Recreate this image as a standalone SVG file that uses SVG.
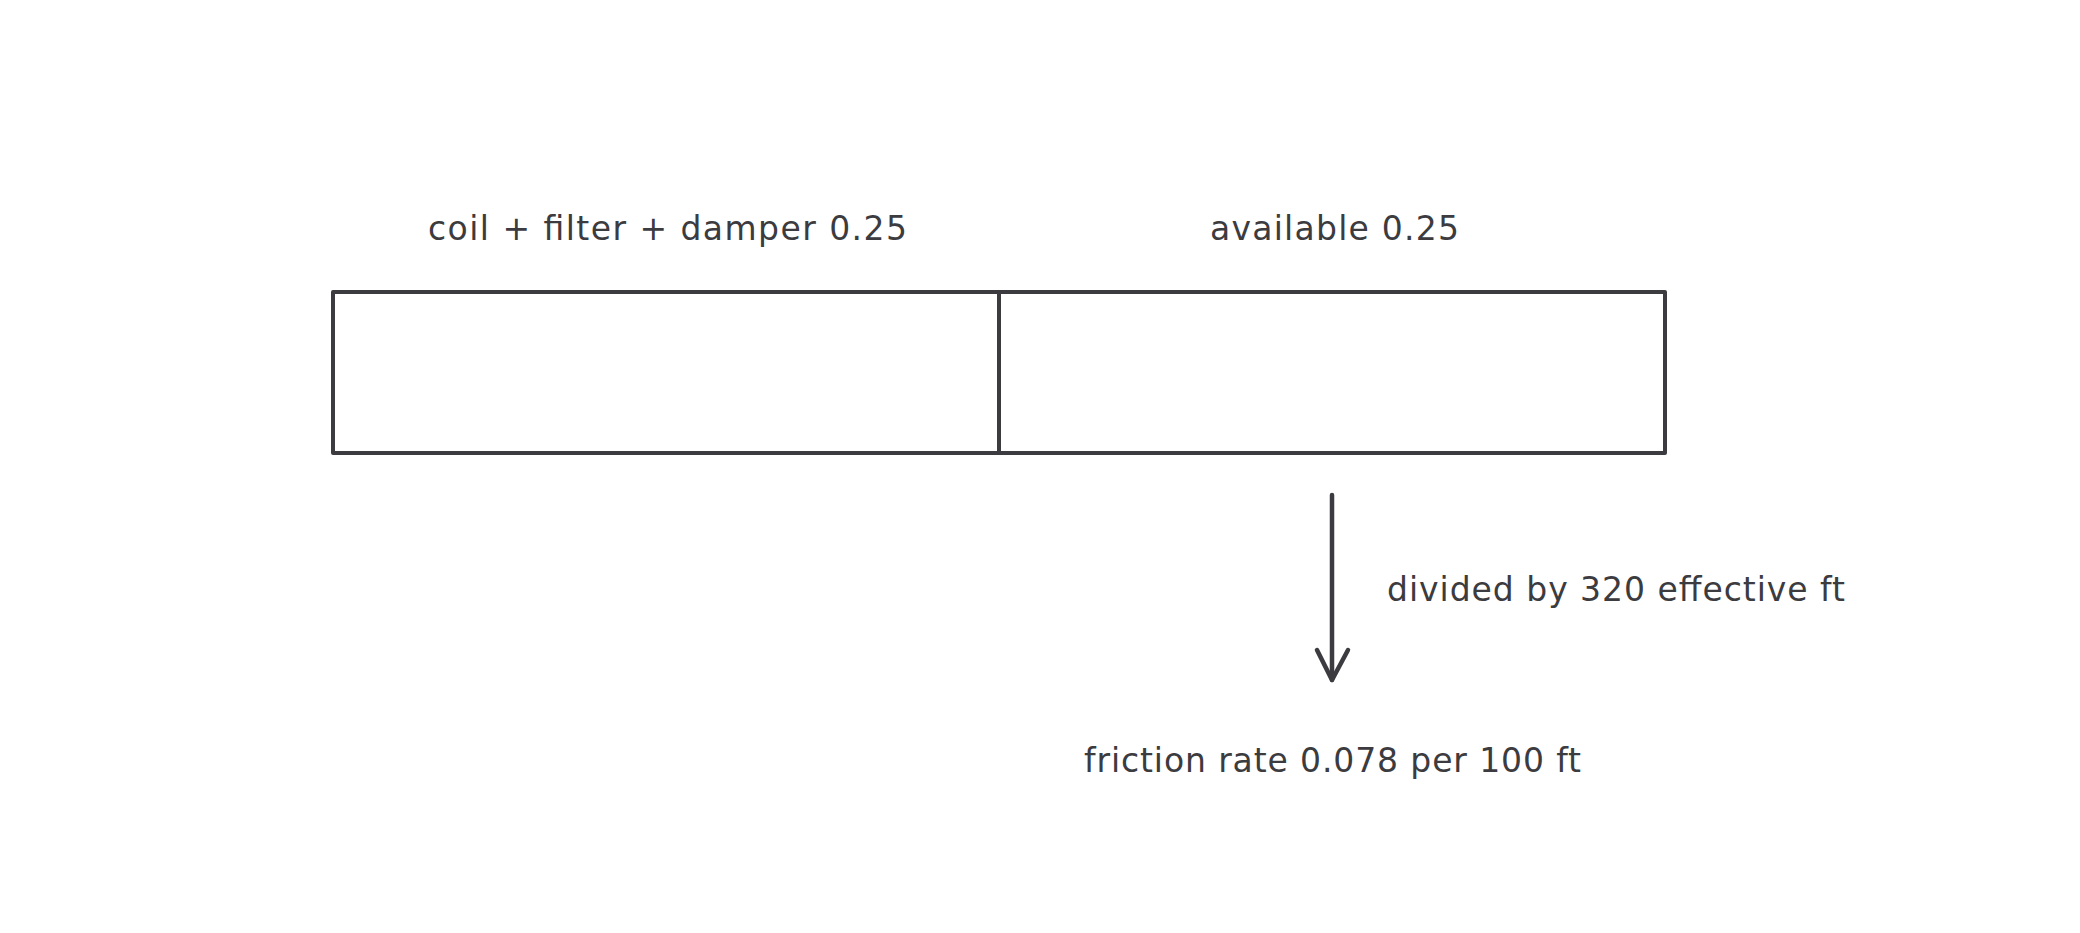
<svg xmlns="http://www.w3.org/2000/svg" width="2080" height="933" viewBox="0 0 2080 933">
<style>
.s{fill:none;stroke:#3b3b40;stroke-width:4;stroke-linecap:round;stroke-linejoin:round}
.a{fill:none;stroke:#3b3b40;stroke-width:4.5;stroke-linecap:round;stroke-linejoin:round}
.t{font-family:"DejaVu Sans","Liberation Sans",sans-serif;font-size:33px;fill:#3b3b40}
</style>
<rect width="2080" height="933" fill="#ffffff"/>
<g id="node-left">
<rect class="s" x="333" y="292" width="666" height="161"/>
<text class="t" x="428" y="240" textLength="479">coil + filter + damper 0.25</text>
</g>
<g id="node-right">
<rect class="s" x="999" y="292" width="666" height="161"/>
<text class="t" x="1210" y="240" textLength="249">available 0.25</text>
</g>
<g id="connectors">
<path class="a" d="M1332 495 L1332 680"/>
<path class="a" d="M1317 650 L1332 680 L1348 650"/>
<text class="t" x="1387" y="601" textLength="458">divided by 320 effective ft</text>
</g>
<g id="node-result">
<text class="t" x="1084" y="772" textLength="497">friction rate 0.078 per 100 ft</text>
</g>
</svg>
